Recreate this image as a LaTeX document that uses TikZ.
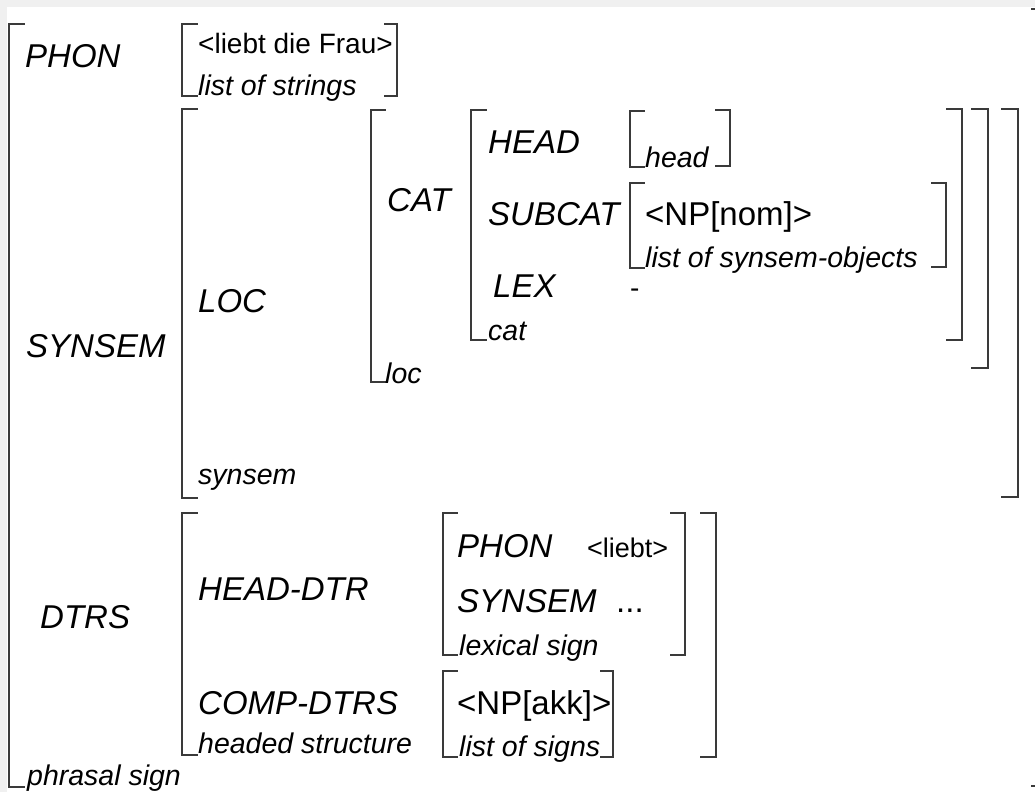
\documentclass[tikz,border=0pt]{standalone}
\usepackage{fontspec}
\setmainfont{Liberation Sans}
\definecolor{bandgray}{HTML}{F0F0F0}
\definecolor{brackgray}{HTML}{3A3A3A}
% left and right square brackets of an attribute-value matrix:
% x, top y, bottom y, tick length
\newcommand\avmLeft[4]{\draw[brk] (#1+#4,#2) -- (#1,#2) -- (#1,#3) -- (#1+#4,#3);}
\newcommand\avmRight[4]{\draw[brk] (#1-#4,#2) -- (#1,#2) -- (#1,#3) -- (#1-#4,#3);}
\tikzset{
  brk/.style={draw=brackgray, line width=1.3pt, line cap=rect},
  attr/.style={font=\fontsize{33}{33}\selectfont\itshape, anchor=base west, inner sep=0pt},
  typ/.style={font=\fontsize{28.5}{28.5}\selectfont\itshape, anchor=base west, inner sep=0pt},
  val/.style={font=\fontsize{28}{28}\selectfont, anchor=base west, inner sep=0pt},
  bigval/.style={font=\fontsize{33}{33}\selectfont, anchor=base west, inner sep=0pt},
  smallval/.style={font=\fontsize{27}{27}\selectfont, anchor=base west, inner sep=0pt},
}
\begin{document}
\begin{tikzpicture}[x=1pt, y=-1pt]
\useasboundingbox (0,0) rectangle (1035,792);
\fill[white] (0,0) rectangle (1035,792);
\fill[bandgray] (0,0) rectangle (1035,7);
\fill[bandgray] (0,0) rectangle (7,792);

% phrasal sign
\avmLeft{9}{24}{787}{15}
\avmRight{1047}{9}{786}{15}
\node[attr] (phon) at (25,67) {PHON};
\node[val] (phonv) at (198,53.5) {<liebt die Frau>};
\node[typ] (phont) at (198,95) {list of strings};
\avmLeft{182}{24}{96}{15}
\avmRight{397}{24}{96}{12}

% SYNSEM value
\node[attr] (synsem) at (26,357) {SYNSEM};
\avmLeft{182}{109}{498}{15}
\avmRight{1018}{109}{497}{16}
\node[attr] (loc) at (198,312) {LOC};
\node[typ] (synsemt) at (198,484) {synsem};

% LOC value
\avmLeft{371}{110}{382}{14}
\avmRight{988}{109}{368}{16}
\node[attr] (cat) at (387,211) {CAT};
\node[typ] (loct) at (385,383) {loc};

% CAT value
\avmLeft{471}{110}{340}{15}
\avmRight{962}{109}{340}{15}
\node[attr] (head) at (488,153) {HEAD};
\node[attr] (subcat) at (488,225) {SUBCAT};
\node[attr] (lex) at (493,297) {LEX};
\node[val] (lexv) at (630,297) {-};
\node[typ] (catt) at (488,340) {cat};

% HEAD value
\avmLeft{630}{111}{167}{14}
\avmRight{730}{110}{166}{14}
\node[typ] (headt) at (645,167) {head};

% SUBCAT value
\avmLeft{630}{183}{268}{14}
\avmRight{946}{183}{267}{14}
\node[bigval] (subcatv) at (645,225) {<NP[nom]>};
\node[typ] (subcatt) at (645,267) {list of synsem-objects};

% DTRS value
\node[attr] (dtrs) at (40,628) {DTRS};
\avmLeft{182}{513}{755}{15}
\avmRight{716}{513}{757}{15}
\node[attr] (hdtr) at (198,600) {HEAD-DTR};
\node[attr] (cdtrs) at (198,714) {COMP-DTRS};
\node[typ] (hst) at (198,753) {headed structure};

% head daughter
\avmLeft{443}{513}{655}{14}
\avmRight{685}{513}{655}{14}
\node[attr] (iphon) at (457,557) {PHON};
\node[smallval] (iphonv) at (587,557) {<liebt>};
\node[attr] (isyn) at (457,612) {SYNSEM};
\node[bigval] (idots) at (616,612) {...};
\node[typ] (lext) at (459,655) {lexical sign};

% complement daughters
\avmLeft{443}{671}{757}{14}
\avmRight{613}{671}{757}{12}
\node[bigval] (akk) at (457,714) {<NP[akk]>};
\node[typ] (los) at (459,756) {list of signs};

\node[typ] (phr) at (27,785) {phrasal sign};
\end{tikzpicture}
\end{document}
